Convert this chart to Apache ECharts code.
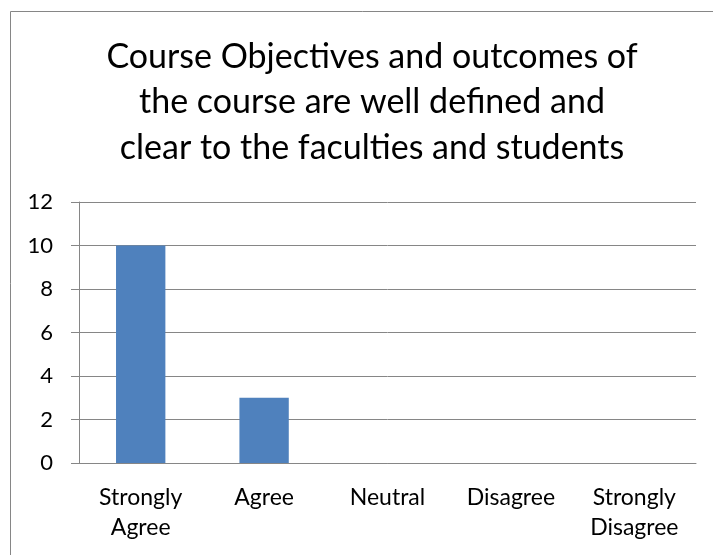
<!DOCTYPE html>
<html>
<head>
<meta charset="utf-8">
<script src="https://cdn.jsdelivr.net/npm/echarts@6/dist/echarts.min.js"></script>
<style>
  html, body { margin: 0; padding: 0; background: #fff; }
  #chart { width: 713px; height: 555px; }
</style>
</head>
<body>
<div id="chart"></div>
<script>
// --- Data ---
const categories = ['Strongly\nAgree', 'Agree', 'Neutral', 'Disagree', 'Strongly\nDisagree'];
const responses = [10, 3, 0, 0, 0];
const yTicks = { min: 0, max: 12, step: 2 };
const titleText = 'Course Objectives and outcomes of\nthe course are well defined and\nclear to the faculties and students';

const font = 'Lato, "Open Sans", sans-serif';
const gray = '#868686';

const chart = echarts.init(document.getElementById('chart'));

chart.setOption({
    animation: false,
    backgroundColor: '#fff',
    // chart frame: only the left and top edges fall inside the picture
    graphic: [{
        type: 'rect',
        shape: { x: 10.5, y: 11.5, width: 800, height: 800 },
        style: { fill: 'none', stroke: gray, lineWidth: 1 },
        silent: true
    }],
    title: {
        text: titleText,
        left: 367,
        top: 29,
        textAlign: 'center',
        textStyle: {
            fontFamily: font,
            fontSize: 34,
            fontWeight: 'normal',
            color: '#000',
            lineHeight: 45.5
        }
    },
    grid: { left: 79, right: 17, top: 202, bottom: 92 },
    xAxis: {
        type: 'category',
        data: categories,
        axisLine: { lineStyle: { color: gray } },
        axisTick: { length: 6, lineStyle: { color: gray } },
        axisLabel: {
            fontFamily: font,
            fontSize: 23,
            color: '#000',
            lineHeight: 30,
            margin: 20,
            interval: 0
        }
    },
    yAxis: {
        type: 'value',
        min: yTicks.min,
        max: yTicks.max,
        interval: yTicks.step,
        axisLine: { show: true, lineStyle: { color: gray } },
        axisTick: { show: true, length: 8, lineStyle: { color: gray } },
        splitLine: { lineStyle: { color: gray } },
        axisLabel: {
            fontFamily: font,
            fontSize: 22,
            color: '#000',
            margin: 26
        }
    },
    series: [{
        type: 'bar',
        data: responses,
        barWidth: '40%',
        itemStyle: { color: '#4F81BD' }
    }]
});
</script>
</body>
</html>
